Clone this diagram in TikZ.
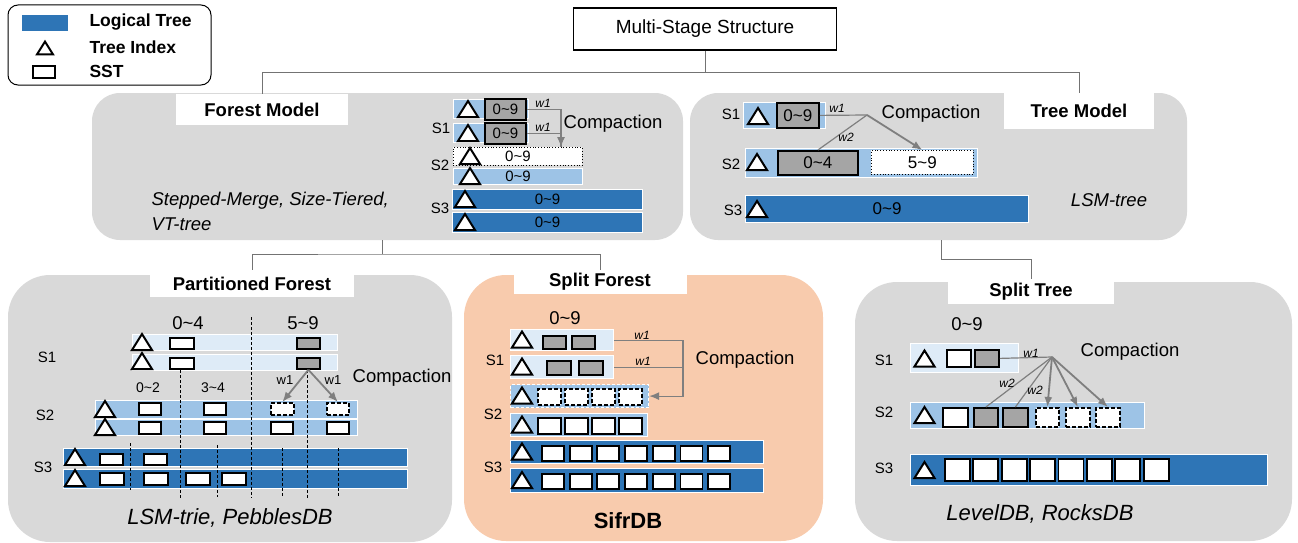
\documentclass[tikz,border=0pt]{standalone}
\usepackage{fontspec}
\setmainfont{Liberation Sans}
\usetikzlibrary{arrows.meta}

\definecolor{dkblue}{HTML}{2E75B6}
\definecolor{ltblue}{HTML}{9DC3E6}
\definecolor{paleblue}{HTML}{DEEBF7}
\definecolor{panelgray}{HTML}{D9D9D9}
\definecolor{peach}{HTML}{F8CBAD}
\definecolor{sstgray}{HTML}{A5A5A5}
\definecolor{cmpgray}{HTML}{7F7F7F}

\newcommand{\setfs}[1]{\fontsize{#1}{#1}\selectfont}

\tikzset{
  treeidx/.pic={\draw[line width=2pt,fill=white,line join=miter] (-10,8) -- (10,8) -- (0,-8) -- cycle;},
  bar/.style={draw=white,line width=1.2pt,inner sep=0pt,anchor=north west,font=\setfs{15}},
  sst/.style={draw=black,line width=1.8pt,fill=white,inner sep=0pt,anchor=north west},
  gsst/.style={sst,fill=sstgray},
  dsst/.style={sst,dash pattern=on 4pt off 2pt},
  tag/.style={fill=white,inner sep=0pt,font=\bfseries\setfs{18.5}},
  link/.style={draw=black!55,line width=0.9pt},
  feed/.style={draw=cmpgray,line width=1.2pt},
  cmp/.style={draw=cmpgray,line width=1.8pt},
  cut/.style={draw=black,line width=0.8pt,dash pattern=on 3pt off 2pt},
  lvl/.style={font=\setfs{15}},
  wlab/.style={font=\itshape\setfs{12}},
  note/.style={font=\setfs{18.5}},
  sys/.style={font=\itshape\setfs{18.5}},
  legtext/.style={anchor=west,font=\bfseries\setfs{17.5}}
}

\begin{document}
\begin{tikzpicture}[x=1pt,y=-1pt,>={Latex[length=10pt,width=8pt]}]
\useasboundingbox (0,0) rectangle (1298,543);

% legend
\draw[line width=1pt,rounded corners=10pt] (8,5) rectangle (211,85);
\fill[dkblue] (22,15) rectangle (68,31);
\pic[scale=0.8] at (45,48) {treeidx};
\draw[line width=1.6pt] (33,66) rectangle (55,78);
\node[legtext] (lgtree) at (86,22) {Logical Tree};
\node[legtext] (lgidx) at (86,47) {Tree Index};
\node[legtext] (lgsst) at (86,71) {SST};

% root
\node[draw,line width=1.3pt,minimum width=263pt,minimum height=42pt,font=\setfs{19}] (top) at (705,29) {Multi-Stage Structure};

% panels
\fill[panelgray,rounded corners=28pt] (92,93) rectangle (683,240);
\fill[panelgray,rounded corners=28pt] (690,93) rectangle (1187,240);
\fill[panelgray,rounded corners=42pt] (8,275) rectangle (452,542);
\fill[peach,rounded corners=42pt] (464,275) rectangle (823,541);
\fill[panelgray,rounded corners=42pt] (855,282) rectangle (1292,541);

\node[tag,minimum width=172pt,minimum height=31pt] (forest) at (262,109.5) {Forest Model};
\node[tag,minimum width=150pt,minimum height=36pt] (tree) at (1079,111) {Tree Model};
\node[tag,minimum width=204pt,minimum height=27pt] (pforest) at (252,283.5) {Partitioned Forest};
\node[tag,minimum width=173pt,minimum height=24pt] (sforest) at (600,282) {Split Forest};
\node[tag,minimum width=166pt,minimum height=25pt] (stree) at (1031,291.5) {Split Tree};

% hierarchy
\coordinate (fbot) at (382,240);
\coordinate (tbot) at (941,240);
\draw[link] (top.south) -- ++(0,22) coordinate (fork);
\draw[link] (forest.north) |- (fork) -| (tree.north);
\draw[link] (fbot) -- ++(0,14) coordinate (fsplit);
\draw[link] (pforest.north) |- (fsplit) -| (sforest.north);
\draw[link] (tbot) -- ++(0,19) -| (stree.north);

% forest model
\node[lvl] (fs1) at (441,128) {S1};
\node[lvl] (fs2) at (440,165) {S2};
\node[lvl] (fs3) at (440,208) {S3};
\node[bar,fill=ltblue,minimum width=75pt,minimum height=19pt] (fr1) at (453,99) {};
\node[bar,fill=ltblue,minimum width=75pt,minimum height=19pt] (fr2) at (453,123) {};
\node[gsst,minimum width=41pt,minimum height=21pt,font=\setfs{15}] (fa) at (484,98) {0\textasciitilde9};
\node[gsst,minimum width=41pt,minimum height=21pt,font=\setfs{15}] (fb) at (484,122) {0\textasciitilde9};
\node[bar,draw=black,line width=0.8pt,dotted,fill=white,minimum width=129pt,minimum height=18pt] (fc) at (453,147) {0\textasciitilde9};
\node[bar,fill=ltblue,minimum width=129pt,minimum height=16pt] (fd) at (453,168) {0\textasciitilde9};
\node[bar,fill=dkblue,minimum width=190pt,minimum height=20pt] (fe) at (452,189) {0\textasciitilde9};
\node[bar,fill=dkblue,minimum width=190pt,minimum height=20pt] (ff) at (452,212) {0\textasciitilde9};
\foreach \y in {109,133} \pic at (468,\y) {treeidx};
\foreach \y in {156,176} \pic at (470,\y) {treeidx};
\foreach \y in {199,222} \pic at (465,\y) {treeidx};
\coordinate (fx) at (561,0);
\draw[feed] (fb.east) -| (fx |- fc.north);
\draw[feed,->] (fa.east) -| (fx |- fc.north);
\node[wlab] at (543,103) {w1};
\node[wlab] at (543,127) {w1};
\node[note] at (613,124) {Compaction};
\node[sys,anchor=west] at (148,201) {Stepped-Merge, Size-Tiered,};
\node[sys,anchor=west] at (148,224) {VT-tree};

% tree model
\node[lvl] at (731,114) {S1};
\node[lvl] at (731,164) {S2};
\node[lvl] at (733,210) {S3};
\node[bar,fill=ltblue,minimum width=82pt,minimum height=26pt] (tr1) at (743,102) {};
\node[gsst,minimum width=42pt,minimum height=25pt,font=\setfs{17}] (tk1) at (776,102) {0\textasciitilde9};
\node[bar,fill=ltblue,minimum width=232pt,minimum height=29pt] (tr2) at (745,148) {};
\node[gsst,minimum width=80pt,minimum height=24pt,font=\setfs{17}] (tk2) at (777,150) {0\textasciitilde4};
\node[sst,line width=0.8pt,dotted,minimum width=102pt,minimum height=24pt,font=\setfs{17}] (tk3) at (871,150) {5\textasciitilde9};
\node[bar,fill=dkblue,minimum width=283pt,minimum height=27pt,font=\setfs{17}] (tr3) at (745,195) {0\textasciitilde9};
\pic at (758,116) {treeidx};
\pic at (757,162) {treeidx};
\pic at (757,209) {treeidx};
\coordinate (thub) at (867,115);
\draw[feed] (tk1.east) -- (thub);
\draw[feed] (tk2.north) -- (thub);
\draw[cmp,->] (thub) -- (tk3.north);
\node[wlab] at (837,108) {w1};
\node[wlab] at (846,137) {w2};
\node[note] at (931,114) {Compaction};
\node[sys] at (1109,200) {LSM-tree};

% partitioned forest
\node[note] at (188,323) {0\textasciitilde4};
\node[note] at (303,323) {5\textasciitilde9};
\node[lvl] at (47,357) {S1};
\node[lvl] at (45,415) {S2};
\node[lvl] at (43,467) {S3};
\node[bar,fill=paleblue,minimum width=205pt,minimum height=16pt] (p1a) at (132,334) {};
\node[bar,fill=paleblue,minimum width=205pt,minimum height=16pt] (p1b) at (132,354) {};
\node[bar,fill=ltblue,minimum width=262pt,minimum height=18pt] (p2a) at (95,400) {};
\node[bar,fill=ltblue,minimum width=262pt,minimum height=16pt] (p2b) at (95,419) {};
\node[bar,fill=dkblue,minimum width=344pt,minimum height=18pt] (p3a) at (63,448) {};
\node[bar,fill=dkblue,minimum width=344pt,minimum height=19pt] (p3b) at (63,469) {};
\foreach \y in {342,361} \pic at (142,\y) {treeidx};
\foreach \y in {409,427} \pic at (105,\y) {treeidx};
\foreach \y in {457,478} \pic at (75,\y) {treeidx};
\foreach \y in {337,357} \node[sst,minimum width=24pt,minimum height=11pt] at (169,\y) {};
\node[gsst,minimum width=23pt,minimum height=11pt] at (296,337) {};
\node[gsst,minimum width=23pt,minimum height=11pt] (pg) at (296,357) {};
\foreach \x in {138,203} \node[sst,minimum width=22pt,minimum height=12pt] at (\x,402) {};
\node[dsst,minimum width=23pt,minimum height=12pt] (pn1) at (270,402) {};
\node[dsst,minimum width=22pt,minimum height=12pt] (pn2) at (326,402) {};
\foreach \x in {138,203,270,326} \node[sst,minimum width=22pt,minimum height=12pt] at (\x,421) {};
\foreach \x in {99,143} \node[sst,minimum width=23pt,minimum height=11pt] at (\x,453) {};
\foreach \x in {99,143,185,221} \node[sst,minimum width=24pt,minimum height=12pt] at (\x,472) {};
\foreach \x/\ya/\yb in {130/443/490,180/370/498,217/445/497,251/317/498,282/448/497,307/370/498,338/448/497}
  \draw[cut] (\x,\ya) -- (\x,\yb);
\draw[cmp,->] (pg.south) -- (pn1.north);
\draw[cmp,->] (pg.south) -- (pn2.north);
\node[font=\setfs{13}] at (285,380) {w1};
\node[font=\setfs{13}] at (333,380) {w1};
\node[note] at (402,378) {Compaction};
\node[font=\setfs{14}] at (148,388) {0\textasciitilde2};
\node[font=\setfs{14}] at (213,388) {3\textasciitilde4};
\node[font=\itshape\setfs{22}] at (230,518) {LSM-trie, PebblesDB};

% split forest
\node[note] at (565,318) {0\textasciitilde9};
\node[lvl] at (495,360) {S1};
\node[lvl] at (493,414) {S2};
\node[lvl] at (493,467) {S3};
\node[bar,fill=paleblue,minimum width=103pt,minimum height=21pt] (sf1) at (510,329) {};
\node[bar,fill=paleblue,minimum width=103pt,minimum height=23pt] (sf2) at (510,355) {};
\node[bar,fill=ltblue,dash pattern=on 3pt off 2pt,minimum width=138pt,minimum height=23pt] (sf3) at (510,384) {};
\node[bar,fill=ltblue,minimum width=137pt,minimum height=23pt] (sf4) at (510,413) {};
\node[bar,fill=dkblue,minimum width=253pt,minimum height=23pt] (sf5) at (510,440) {};
\node[bar,fill=dkblue,minimum width=253pt,minimum height=24pt] (sf6) at (510,468) {};
\foreach \y in {339.5,366.5,395.5,424.5,451.5,480} \pic at (522,\y) {treeidx};
\foreach \x in {542,571} \node[gsst,minimum width=23pt,minimum height=13pt] at (\x,335) {};
\foreach \x in {546,578} \node[gsst,minimum width=24pt,minimum height=14pt] at (\x,360) {};
\foreach \x in {537,564,591,618} \node[dsst,minimum width=23pt,minimum height=16pt] at (\x,388) {};
\foreach \x in {537,564,591,618} \node[sst,minimum width=23pt,minimum height=16pt] at (\x,417) {};
\foreach \i in {0,...,6} {
  \node[sst,minimum width=22pt,minimum height=15pt] at (541+27.7*\i,445) {};
  \node[sst,minimum width=22pt,minimum height=15pt] at (541+27.7*\i,473) {};
}
\coordinate (sfx) at (683,0);
\draw[feed] (sf2.east) -| (sfx |- sf3.east);
\draw[feed,->] (sf1.east) -| (sfx |- sf3.east) -- (sf3.east);
\node[wlab] at (642,335) {w1};
\node[wlab] at (643,361) {w1};
\node[note] at (745,360) {Compaction};
\node[font=\bfseries\setfs{22}] at (628,521) {SifrDB};

% split tree
\node[note] at (967,324) {0\textasciitilde9};
\node[lvl] at (884,360) {S1};
\node[lvl] at (884,412) {S2};
\node[lvl] at (884,468) {S3};
\node[bar,fill=paleblue,minimum width=108pt,minimum height=29pt] (st1) at (910,343) {};
\node[bar,fill=ltblue,minimum width=234pt,minimum height=26pt] (st2) at (910,402) {};
\node[bar,fill=dkblue,minimum width=357pt,minimum height=31pt] (st3) at (910,454) {};
\pic at (924.5,358.5) {treeidx};
\pic at (924.5,415) {treeidx};
\pic at (924.5,470) {treeidx};
\node[sst,minimum width=24pt,minimum height=17pt] at (946,349) {};
\node[gsst,minimum width=24pt,minimum height=17pt] (stg) at (974,349) {};
\node[sst,minimum width=25pt,minimum height=19pt] at (942,407) {};
\node[gsst,minimum width=24pt,minimum height=19pt] (sta) at (973,407) {};
\node[gsst,minimum width=25pt,minimum height=19pt] (stb) at (1002,407) {};
\node[dsst,minimum width=23pt,minimum height=19pt] (stc) at (1035,407) {};
\node[dsst,minimum width=24pt,minimum height=19pt] (std) at (1065,407) {};
\node[dsst,minimum width=24pt,minimum height=19pt] (ste) at (1095,407) {};
\foreach \i in {0,...,7}
  \node[sst,minimum width=25pt,minimum height=22pt] at (944+28.4*\i,458) {};
\coordinate (shub) at (1052,357);
\draw[feed] (stg.east) -- (shub);
\draw[feed] (sta.north) -- (shub);
\draw[feed] (stb.north) -- (shub);
\foreach \n in {stc,std,ste} \draw[cmp,->] (shub) -- (\n.north);
\node[wlab] at (1031,353) {w1};
\node[wlab] at (1007,383) {w2};
\node[wlab] at (1035,390) {w2};
\node[note] at (1130,352) {Compaction};
\node[font=\itshape\setfs{22}] at (1040,514) {LevelDB, RocksDB};
\end{tikzpicture}
\end{document}
